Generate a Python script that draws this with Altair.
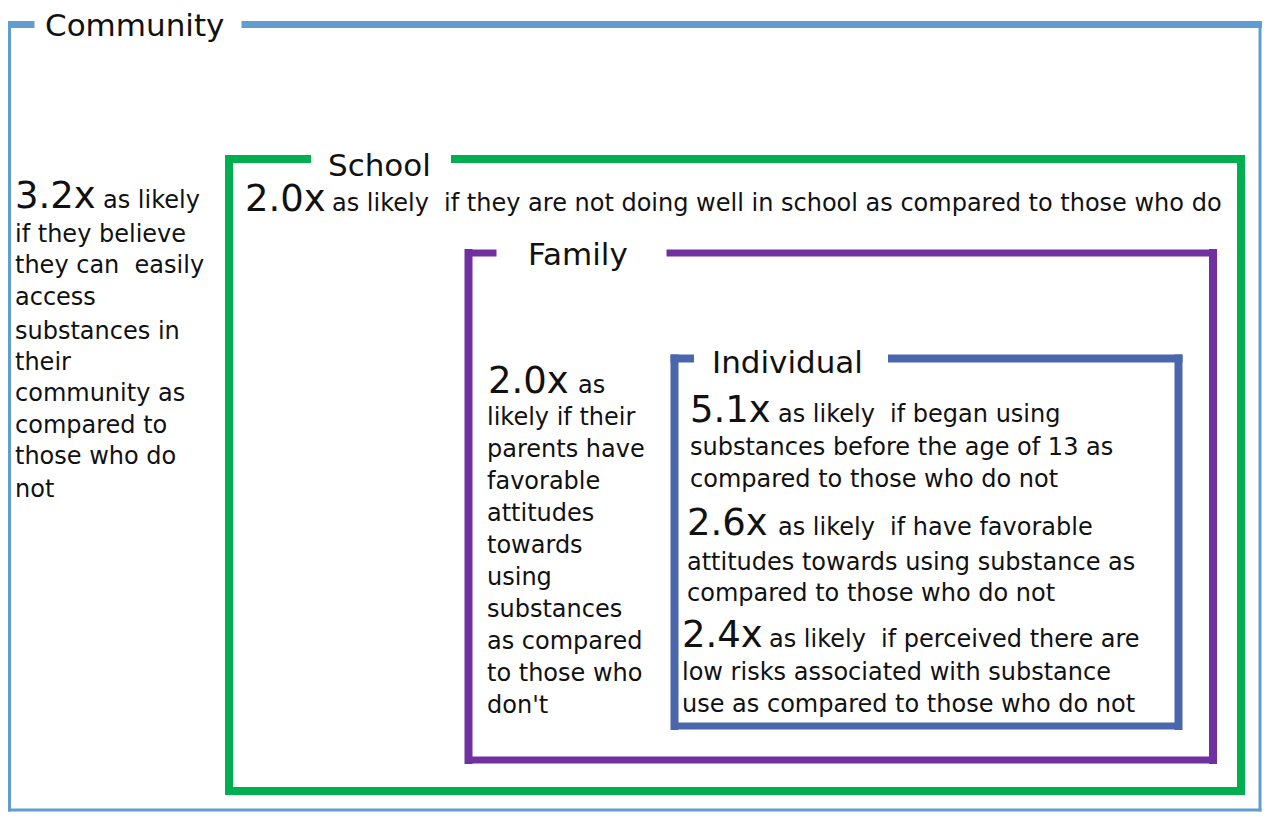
import altair as alt
import pandas as pd

# ---- nested boxes (layout of the diagram, in reference pixel coordinates) ----
box_names = ["Community", "School", "Family", "Individual"]
box_colors = ["#619DD1", "#00B050", "#7030A0", "#4A66AC"]
box_left = [9.5, 229, 468.5, 674.5]
box_right = [1260, 1241, 1213, 1178.5]
box_top = [24.5, 159, 253, 358.5]
box_bottom = [810, 791, 760, 726]
gap_start = [31, 307, 493, 690]
gap_end = [245, 455, 670, 892]
top_width = [7, 8, 7, 8]
side_width = [3, 8, 8, 8]
bottom_width = [3, 8, 7, 7]

# ---- box titles ----
title_text = ["Community", "School", "Family", "Individual"]
title_x = [45, 328, 528, 712]
title_y = [36, 176, 265, 373]

# ---- multipliers ----
mult_text = ["3.2x", "2.0x", "2.0x", "5.1x", "2.6x", "2.4x"]
mult_x = [15, 245, 488, 690, 687, 682]
mult_y = [208, 211, 393, 422, 535, 647]

# ---- description lines ----
NB = "\u00a0"
line_text = [
    "as likely",
    "if they believe",
    "they can" + NB + " easily",
    "access",
    "substances in",
    "their",
    "community as",
    "compared to",
    "those who do",
    "not",
    "as likely" + NB + " if they are not doing well in school as compared to those who do",
    "as",
    "likely if their",
    "parents have",
    "favorable",
    "attitudes",
    "towards",
    "using",
    "substances",
    "as compared",
    "to those who",
    "don't",
    "as likely" + NB + " if began using",
    "substances before the age of 13 as",
    "compared to those who do not",
    "as likely" + NB + " if have favorable",
    "attitudes towards using substance as",
    "compared to those who do not",
    "as likely" + NB + " if perceived there are",
    "low risks associated with substance",
    "use as compared to those who do not",
]
line_x = [103, 15, 15, 15, 15, 15, 15, 15, 15, 15,
          332,
          578, 487, 487, 487, 487, 487, 487, 487, 487, 487, 487,
          778, 690, 690, 778, 687, 687, 769, 682, 682]
line_y = [208, 242, 273, 305, 339, 370, 401, 433, 464, 497,
          211,
          393, 425, 457, 489, 521, 553, 585, 617, 649, 681, 713,
          422, 455, 487, 535, 570, 601, 647, 680, 712]

# ---- build tables ----
segs = []
for i, name in enumerate(box_names):
    L, R, T, B = box_left[i], box_right[i], box_top[i], box_bottom[i]
    c = box_colors[i]
    segs.append(dict(box=name, x=L, x2=gap_start[i], y=T, y2=T, c=c, w=top_width[i]))
    segs.append(dict(box=name, x=gap_end[i], x2=R, y=T, y2=T, c=c, w=top_width[i]))
    segs.append(dict(box=name, x=L, x2=L, y=T, y2=B, c=c, w=side_width[i]))
    segs.append(dict(box=name, x=R, x2=R, y=T, y2=B, c=c, w=side_width[i]))
    segs.append(dict(box=name, x=L, x2=R, y=B, y2=B, c=c, w=bottom_width[i]))
seg_df = pd.DataFrame(segs)

texts = []
for t, x, y in zip(title_text, title_x, title_y):
    texts.append(dict(t=t, x=x, y=y, s=31))
for t, x, y in zip(mult_text, mult_x, mult_y):
    texts.append(dict(t=t, x=x, y=y, s=37))
for t, x, y in zip(line_text, line_x, line_y):
    texts.append(dict(t=t, x=x, y=y, s=24))
text_df = pd.DataFrame(texts)

xs = alt.Scale(domain=[8, 1262], nice=False, zero=False)
ys = alt.Scale(domain=[8, 812], nice=False, zero=False, reverse=True)

rules = alt.Chart(seg_df).mark_rule(strokeCap="square").encode(
    x=alt.X("x:Q", scale=xs, axis=None),
    x2="x2:Q",
    y=alt.Y("y:Q", scale=ys, axis=None),
    y2="y2:Q",
    color=alt.Color("c:N", scale=None),
    size=alt.Size("w:Q", scale=None),
)

labels = alt.Chart(text_df).mark_text(
    align="left", baseline="alphabetic", font="DejaVu Sans", color="#111111"
).encode(
    x=alt.X("x:Q", scale=xs, axis=None),
    y=alt.Y("y:Q", scale=ys, axis=None),
    text="t:N",
    size=alt.Size("s:Q", scale=None),
)

chart = (
    alt.layer(rules, labels)
    .properties(width=1254, height=804, autosize=alt.AutoSizeParams(type="none"), padding=0,
                background="white")
    .configure_view(stroke=None)
)

chart.save("out.html", embed_options={"renderer": "svg", "actions": False})
